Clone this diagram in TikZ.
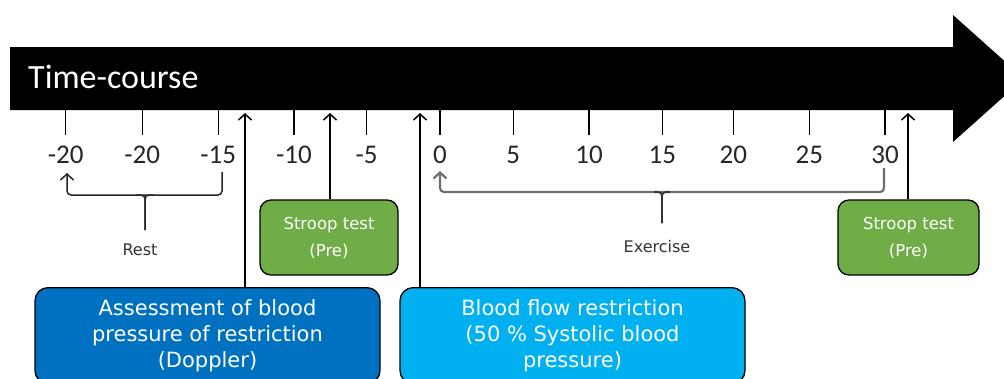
\documentclass[tikz,border=0pt]{standalone}
\usepackage{fontspec}
\setmainfont{Carlito}
\newfontfamily\boxfont{DejaVu Sans}
\usetikzlibrary{arrows.meta}
\definecolor{grn}{HTML}{70AD47}
\definecolor{dblue}{HTML}{0070C0}
\definecolor{lblue}{HTML}{00B0F0}
\definecolor{brk}{HTML}{6E6E6E}
\begin{document}
\begin{tikzpicture}[x=1pt,y=-1pt,
  tick/.style={line width=1.5pt},
  ticklabel/.style={anchor=base, inner sep=0pt, font=\fontsize{27}{27}\selectfont, text=black!85},
  uparrow/.style={line width=1.5pt, -{Straight Barb[length=6pt,width=13pt]}},
  stroopbox/.style={draw=black, line width=1.3pt, fill=grn, rounded corners=11pt, minimum height=75pt, text=white, align=center, font=\boxfont\fontsize{16.5}{27}\selectfont},
  bigbox/.style={draw=black, line width=1.3pt, rounded corners=13pt, minimum width=345pt, minimum height=96pt, text=white, align=center, font=\boxfont\fontsize{21}{26}\selectfont, anchor=north},
  phase/.style={font=\boxfont\fontsize{16}{16}\selectfont, text=black!80, inner sep=0pt, anchor=base},
  restbr/.style={line width=1.5pt, draw=black!85, rounded corners=4pt},
  exbr/.style={line width=2.2pt, draw=brk, rounded corners=4pt}
]
\useasboundingbox (0,0) rectangle (1004,378);
\clip (0,0) rectangle (1004,378);
% big timeline arrow
\fill[black] (10,47) -- (953,47) -- (953,15) -- (1024,78.5) -- (953,142) -- (953,110) -- (10,110) -- cycle;
\node[anchor=base west, text=white, font=\fontsize{34}{34}\selectfont, inner sep=0pt] (title) at (28,88) {Time-course};
% ticks and labels
\foreach \x/\l [count=\i] in {65.7/-20,142.3/-20,218.3/-15,294/-10,366.7/-5,440/0,513.3/5,589/10,662.3/15,733.3/20,809.3/25,885/30}{
  \draw[tick] (\x,110) -- (\x,135);
  \node[ticklabel] (t\i) at (\x,163) {\l};
}
% boxes
\node[stroopbox, minimum width=138pt] (s1) at (329,237.5) {Stroop test\\(Pre)};
\node[stroopbox, minimum width=141pt] (s2) at (908.5,237.5) {Stroop test\\(Pre)};
\node[bigbox, fill=dblue] (assess) at (207.5,287) {Assessment of blood\\pressure of restriction\\(Doppler)};
\node[bigbox, fill=lblue] (bfr) at (572.5,287) {Blood flow restriction\\(50 \% Systolic blood\\pressure)};
% up arrows
\coordinate (a1) at (245,113);
\coordinate (a2) at (330,113);
\coordinate (a3) at (420,113);
\coordinate (a4) at (908,113);
\draw[uparrow] (assess.north -| a1) -- (a1);
\draw[uparrow] (s1.north -| a2) -- (a2);
\draw[uparrow] (bfr.north -| a3) -- (a3);
\draw[uparrow] (s2.north -| a4) -- (a4);
% rest bracket
\coordinate (rl) at (67,173);
\coordinate (rr) at (222,172);
\coordinate (rb) at (145,195);
\coordinate (rm) at (145,230);
\draw[restbr, -{Straight Barb[length=6pt,width=13pt]}] (rr) |- (rb) -| (rl);
\draw[restbr] ([xshift=-9pt]rb) -| (rm);
\draw[restbr] ([xshift=9pt]rb) -| (rm);
\node[phase] (rest) at (140,255) {Rest};
% exercise bracket
\coordinate (el) at (440,171);
\coordinate (er) at (884,168);
\coordinate (eb) at (662,192);
\coordinate (em) at (662,223);
\draw[exbr, -{Straight Barb[length=6pt,width=13pt]}] (er) |- (eb) -| (el);
\draw[exbr, line width=1.6pt, draw=black!80] ([xshift=-8pt]eb) -| (em);
\draw[exbr, line width=1.6pt, draw=black!80] ([xshift=8pt]eb) -| (em);
\node[phase] (exercise) at (657,252) {Exercise};
\end{tikzpicture}
\end{document}
